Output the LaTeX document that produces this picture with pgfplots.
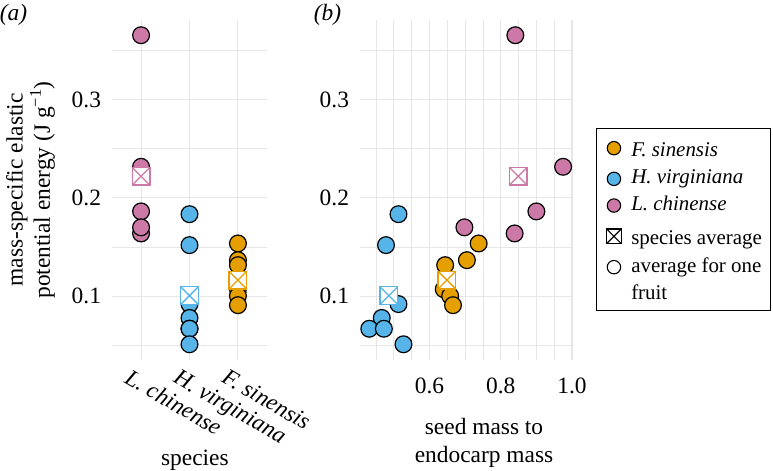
\documentclass[border=0pt]{standalone}
\usepackage{pgfplots}
\usepackage{pgfplotstable}
\pgfplotsset{compat=1.18}
\usepackage{fontspec}
\setmainfont{Liberation Serif}
\definecolor{orgc}{HTML}{E69F00}
\definecolor{bluc}{HTML}{56B4E9}
\definecolor{pinc}{HTML}{CC79A7}
\definecolor{gridc}{HTML}{E6E6E6}

\pgfdeclareplotmark{sqx}{%
  \pgfpathrectangle{\pgfqpoint{-\pgfplotmarksize}{-\pgfplotmarksize}}{\pgfqpoint{2\pgfplotmarksize}{2\pgfplotmarksize}}%
  \pgfusepathqfillstroke
  \pgfpathmoveto{\pgfqpoint{-\pgfplotmarksize}{-\pgfplotmarksize}}%
  \pgfpathlineto{\pgfqpoint{\pgfplotmarksize}{\pgfplotmarksize}}%
  \pgfpathmoveto{\pgfqpoint{-\pgfplotmarksize}{\pgfplotmarksize}}%
  \pgfpathlineto{\pgfqpoint{\pgfplotmarksize}{-\pgfplotmarksize}}%
  \pgfusepathqstroke
}

% cat = category index in panel (a); ratio = seed mass / endocarp mass; energy = J/g
\pgfplotstableread{
cat ratio energy
3 0.738 0.1536
3 0.705 0.1366
3 0.644 0.1315
3 0.640 0.1070
3 0.658 0.1003
3 0.666 0.0908
}\orangedata
\pgfplotstableread{
cat ratio energy
2 0.513 0.1834
2 0.478 0.1519
2 0.513 0.0919
2 0.466 0.0778
2 0.431 0.0668
2 0.472 0.0668
2 0.527 0.0510
}\bluedata
\pgfplotstableread{
cat ratio energy
1 0.841 0.3655
1 0.975 0.2316
1 0.900 0.1862
1 0.839 0.1638
1 0.698 0.1700
}\pinkdata
\pgfplotstableread{
cat ratio energy
3 0.649 0.1163
}\orangeavg
\pgfplotstableread{
cat ratio energy
2 0.486 0.1005
}\blueavg
\pgfplotstableread{
cat ratio energy
1 0.849 0.2220
}\pinkavg

\newcommand{\bigf}{\fontsize{23.5}{27}\selectfont}
\pgfplotsset{
  myax/.style={
    scale only axis, height=340bp,
    ymin=0.035, ymax=0.381,
    ytick={0.1,0.2,0.3}, yticklabels={0.1,0.2,0.3},
    minor ytick={0.05,0.15,0.25,0.35},
    grid=both,
    major grid style={draw=gridc, line width=1.1bp},
    minor grid style={draw=gridc, line width=0.8bp},
    axis line style={draw=none},
    major tick length=0pt, minor tick length=0pt,
    tick label style={font=\bigf},
    yticklabel style={xshift=-3bp},
    /pgf/number format/assume math mode=true,
    clip=false,
  },
  circ/.style={only marks, mark=*, mark size=8.4bp, mark options={draw=black, fill=#1, line width=1.2bp}},
  sqr/.style={only marks, mark=sqx, mark size=8.85bp, mark options={draw=#1, fill=white, line width=1.3bp}},
}

\begin{document}
\bigf
\begin{tikzpicture}
\useasboundingbox (0,0) rectangle (773bp,471bp);
% panel (a)
\begin{axis}[myax, at={(112bp,111bp)}, anchor=south west, width=155bp,
  xmin=0.4, xmax=3.6, xtick={1,2,3},
  xticklabels={L. chinense, H. virginiana, F. sinensis},
  xticklabel style={font=\bigf\itshape, rotate=-30, anchor=north west, xshift=-12bp, yshift=-4bp},
  minor xtick={},
  xlabel={species},
  xlabel style={at={(axis description cs:0.535,-0.294)}, anchor=center, font=\bigf},
]
\addplot[circ=pinc, forget plot] table[x=cat, y=energy] {\pinkdata};
\addplot[circ=bluc, forget plot] table[x=cat, y=energy] {\bluedata};
\addplot[circ=orgc, forget plot] table[x=cat, y=energy] {\orangedata};
\addplot[sqr=pinc, forget plot] table[x=cat, y=energy] {\pinkavg};
\addplot[sqr=bluc, forget plot] table[x=cat, y=energy] {\blueavg};
\addplot[sqr=orgc, forget plot] table[x=cat, y=energy] {\orangeavg};
\node[font=\bigf\itshape] at (axis description cs:-0.6355,1.0147) {(a)};
\end{axis}
\node[font=\fontsize{23.5}{27.5}\selectfont, rotate=90, align=center, anchor=center]
  at (30.5bp,281bp) {mass-specific elastic\\potential energy (J g\textsuperscript{−1})};
% panel (b)
\begin{axis}[myax, at={(360bp,111bp)}, anchor=south west, width=212bp,
  xmin=0.405, xmax=1.0,
  xtick={0.6,0.8,1.0}, xticklabels={0.6,0.8,1.0},
  minor xtick={0.45,0.5,0.55,0.65,0.7,0.75,0.85,0.9,0.95},
  xticklabel style={yshift=-10bp},
  xlabel={seed mass to\\endocarp mass},
  xlabel style={at={(axis description cs:0.585,-0.244)}, anchor=center, align=center, font=\fontsize{23.5}{28.5}\selectfont},
  legend style={at={(axis description cs:1.1132,0.6824)}, anchor=north west, draw=black, line width=0.9bp, fill=white,
    inner xsep=9bp, inner ysep=6bp, font=\fontsize{21}{25}\selectfont, row sep=7.5bp, column sep=10bp,
    nodes={inner sep=0pt, text depth=5bp}},
  legend cell align=left,
]
\addplot[circ=pinc, forget plot] table[x=ratio, y=energy] {\pinkdata};
\addplot[circ=bluc, forget plot] table[x=ratio, y=energy] {\bluedata};
\addplot[circ=orgc, forget plot] table[x=ratio, y=energy] {\orangedata};
\addplot[sqr=pinc, forget plot] table[x=ratio, y=energy] {\pinkavg};
\addplot[sqr=bluc, forget plot] table[x=ratio, y=energy] {\blueavg};
\addplot[sqr=orgc, forget plot] table[x=ratio, y=energy] {\orangeavg};
\node[font=\bigf\itshape] at (axis description cs:-0.1533,1.0147) {(b)};
\addlegendimage{only marks, mark=*, mark size=6.7bp, mark options={draw=black, fill=orgc, line width=1.1bp}}
\addlegendentry{\rule{0pt}{22.5bp}\textit{F. sinensis}}
\addlegendimage{only marks, mark=*, mark size=6.7bp, mark options={draw=black, fill=bluc, line width=1.1bp}}
\addlegendentry{\textit{H. virginiana}}
\addlegendimage{only marks, mark=*, mark size=6.7bp, mark options={draw=black, fill=pinc, line width=1.1bp}}
\addlegendentry{\textit{L. chinense}}
\addlegendimage{only marks, mark=sqx, mark size=7.3bp, mark options={draw=black, fill=white, line width=1.1bp}}
\addlegendentry{\rule{0pt}{22bp}species average}
\addlegendimage{only marks, mark=*, mark size=6.7bp, mark options={draw=black, fill=white, line width=1.1bp}}
\addlegendentry{average for one}
\addlegendimage{empty legend}
\addlegendentry{fruit}
\end{axis}
\end{tikzpicture}
\end{document}
